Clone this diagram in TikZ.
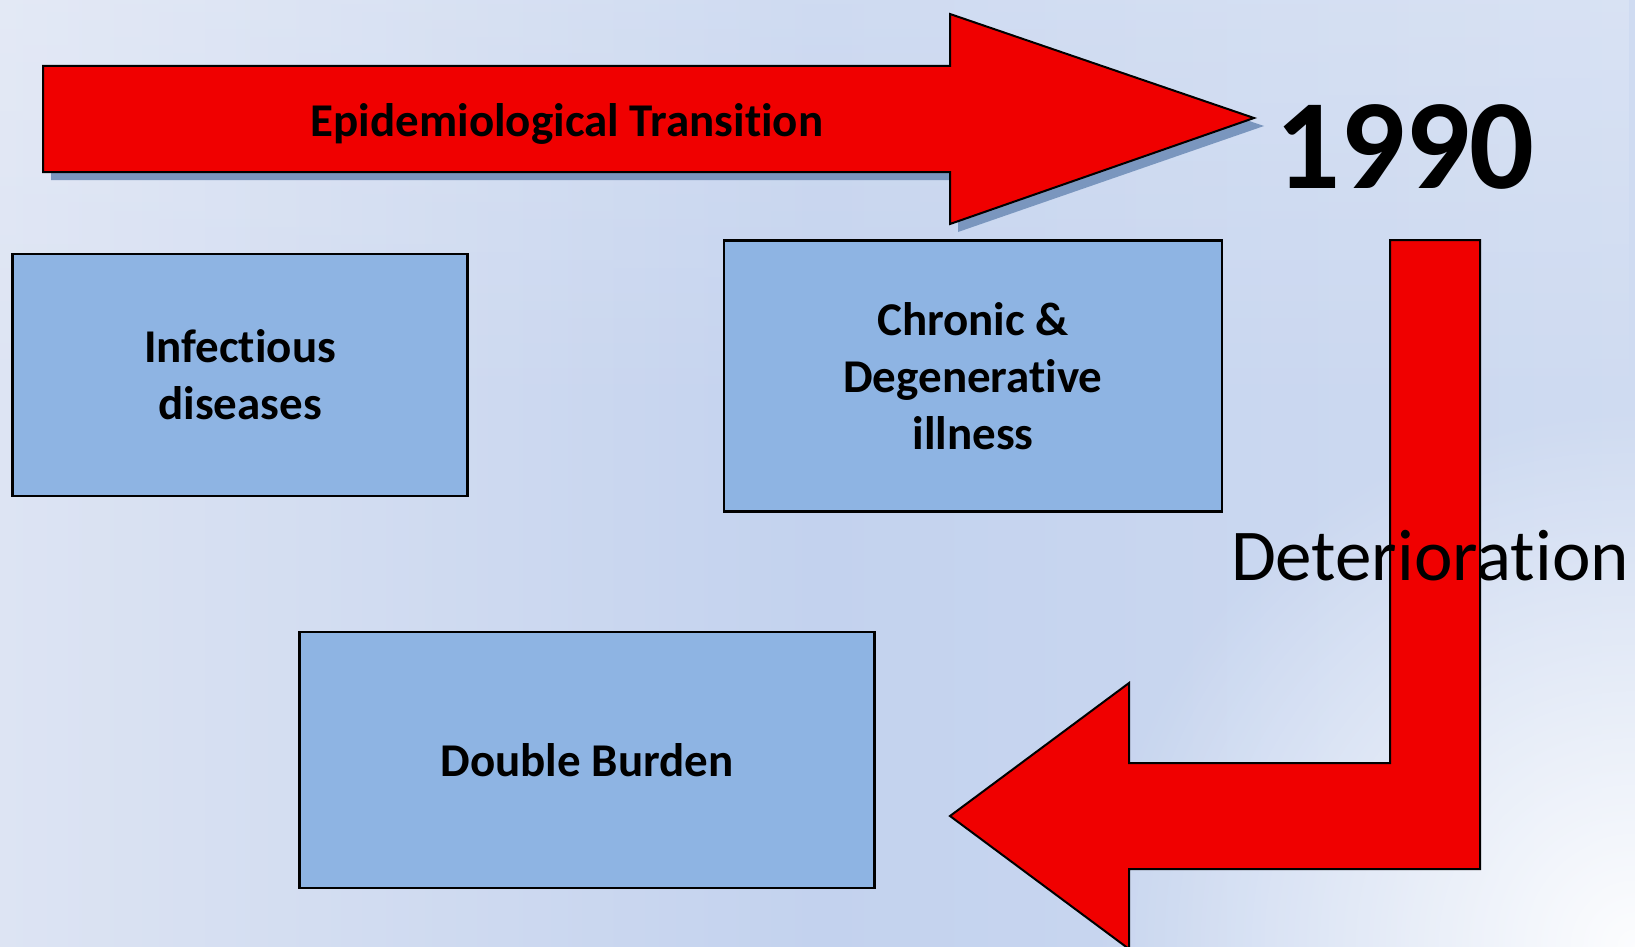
\documentclass[tikz,border=0pt]{standalone}
\usepackage{fontspec}
\setmainfont{Carlito}[RawFeature={-liga;-clig;-calt;-rlig;-dlig}]
\usetikzlibrary{fadings}
\definecolor{arrowred}{HTML}{F00000}
\definecolor{boxblue}{HTML}{8EB4E3}
\definecolor{shadowblue}{HTML}{7A96BE}
\definecolor{bgleft}{HTML}{DDE4F3}
\definecolor{bgmid}{HTML}{C3D2EE}
\definecolor{bgright}{HTML}{CFDBF1}
\tikzfading[name=cornerglow, inner color=transparent!0, outer color=transparent!100]
\begin{document}
\begin{tikzpicture}[x=1pt, y=-1pt,
    disease/.style={draw=black, line width=2.3pt, fill=boxblue, align=center,
      font=\fontsize{47}{57}\selectfont\bfseries, inner sep=0pt},
    blockarrow/.style={draw=black, line width=2pt, fill=arrowred, line join=miter}]
    \clip (0,0) rectangle (1635,947);
    \shade[left color=bgleft, right color=bgright, middle color=bgmid] (0,0) rectangle (1635,947);
    \fill[white, path fading=south, fill opacity=0.2] (0,0) rectangle (1635,420);
    \fill[white, path fading=cornerglow, fill opacity=0.95] (1635,947) circle (540pt);
    \fill[shadowblue] (51,74) -- (958,74) -- (958,22) -- (1264,126) -- (958,232) -- (958,180) -- (51,180) -- cycle;
    \draw[blockarrow] (43,66) -- (950,66) -- (950,14) -- (1254,118) -- (950,224) -- (950,172) -- (43,172) -- cycle;
    \draw[blockarrow] (1390,240) -- (1480,240) -- (1480,869) -- (1129,869) -- (1129,949) -- (950,816)
      -- (1129,683) -- (1129,763) -- (1390,763) -- cycle;
    \node[disease, minimum width=455pt, minimum height=242pt] (infectious) at (240,375) {Infectious\\diseases};
    \node[disease, minimum width=498pt, minimum height=271pt] (chronic) at (973,376) {Chronic \&\\Degenerative\\illness};
    \node[disease, minimum width=575pt, minimum height=256pt] (double) at (587,760) {Double Burden};
    \node[font=\fontsize{47}{57}\selectfont\bfseries, anchor=base, inner sep=0pt] (transition) at (567,137) {Epidemiological Transition};
    \node[font=\fontsize{128}{128}\selectfont\bfseries, anchor=base, inner sep=0pt] (year) at (1405,188) {1990};
    \node[font=\fontsize{73}{73}\selectfont, anchor=base, inner sep=0pt] (deterioration) at (1430,580) {Deterioration};
\end{tikzpicture}
\end{document}
